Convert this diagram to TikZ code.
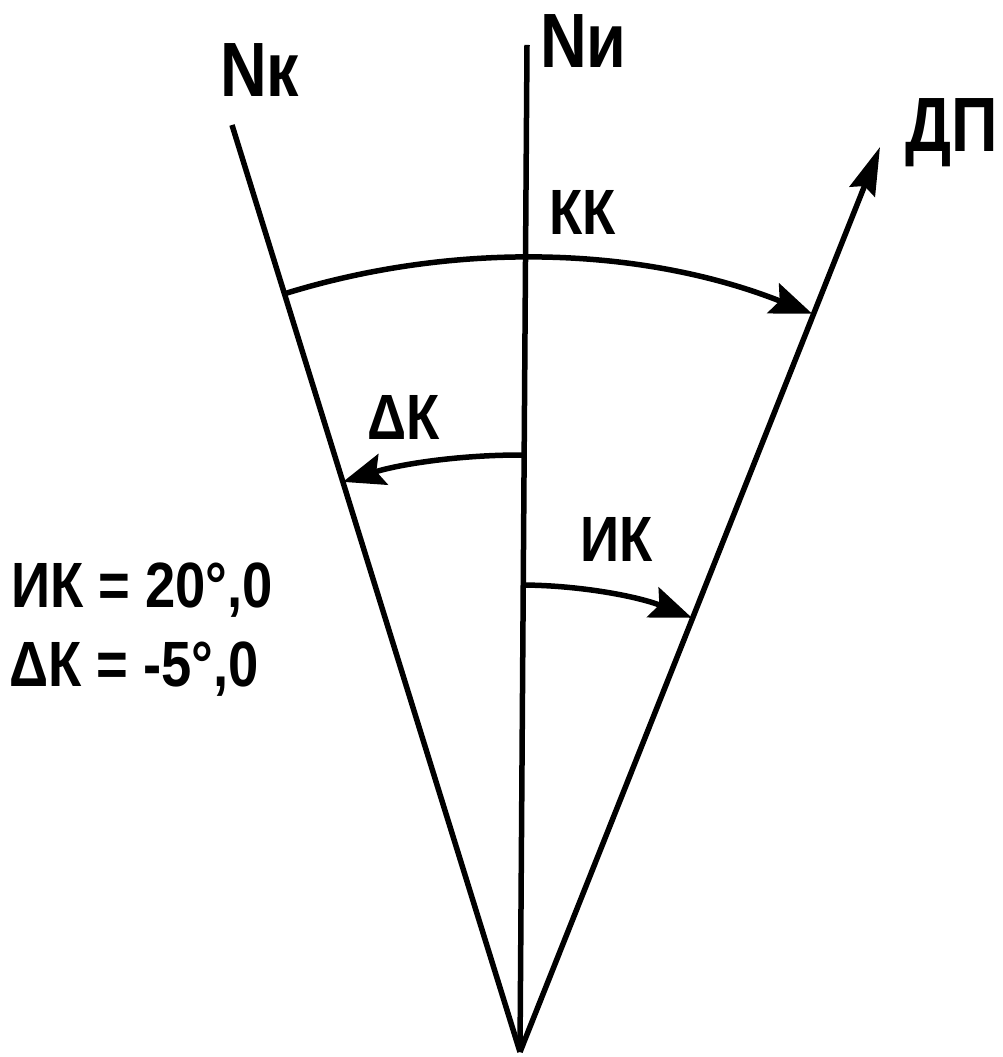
\documentclass[tikz,border=0pt]{standalone}
\usepackage{fontspec}
\setmainfont{Liberation Sans}
\usetikzlibrary{arrows.meta}
\tikzset{
  ray/.style={line width=5.5pt, line cap=butt},
  arcline/.style={line width=5.5pt, -{Stealth[length=42pt,width=32pt,inset=7pt]}},
  biglab/.style={anchor=base west, inner sep=0pt, xscale=0.84, font=\bfseries\fontsize{77}{80}\selectfont},
  lab/.style={anchor=base west, inner sep=0pt, xscale=0.85, font=\bfseries\fontsize{64}{70}\selectfont}
}
\begin{document}
\begin{tikzpicture}[x=1pt,y=1pt]
\useasboundingbox (0,0) rectangle (1003,1057);
% points
\coordinate (O) at (520,5);
\coordinate (NkTop) at (232,932);
\coordinate (NiTop) at (527,1012);
\coordinate (DPtip) at (880,910);
% rays
\draw[ray] (O) -- (NkTop);
\draw[ray] (O) -- (NiTop);
\draw[ray, -{Stealth[length=48pt,width=27pt,inset=6pt]}] (O) -- (DPtip);
% arcs
\draw[arcline] (O) ++(107.26:794pt) arc[start angle=107.26, end angle=68.4, radius=794pt];
\draw[arcline] (O) ++(89.6:597pt) arc[start angle=89.6, end angle=107.26, radius=597pt];
\draw[arcline] (O) ++(89.6:467pt) arc[start angle=89.6, end angle=68.4, radius=467pt];
% labels
\node[biglab] (nk) at (220,960) {Nк};
\node[biglab] (ni) at (540,989) {Nи};
\node[biglab] (dp) at (905,905) {ДП};
\node[lab] (kk) at (549,822) {КК};
\node[lab] (dk) at (367,617) {ΔК};
\node[lab] (ik) at (580,495) {ИК};
\node[lab] (eq1) at (11,449) {ИК = 20°,0};
\node[lab] (eq2) at (9,370) {ΔК = -5°,0};
\end{tikzpicture}
\end{document}
